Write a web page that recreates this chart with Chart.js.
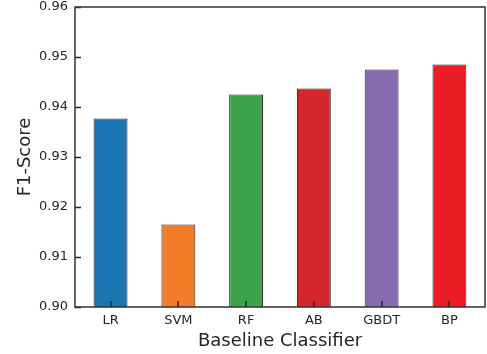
<!DOCTYPE html>
<html>
<head>
<meta charset="utf-8">
<script src="https://cdn.jsdelivr.net/npm/chart.js@4"></script>
<style>
  html, body { margin: 0; padding: 0; background: #fff; }
  #wrap { width: 487px; height: 354px; }
</style>
</head>
<body>
<div id="wrap"><canvas id="f1Chart" width="487" height="354"></canvas></div>
<script>
// classifiers and their F1 scores
const classifiers = ["LR", "SVM", "RF", "AB", "GBDT", "BP"];
const f1Scores = [0.9377, 0.9165, 0.9425, 0.9437, 0.9475, 0.9485];
const barColors = ["#1a76b2", "#f37c28", "#3ca34b", "#d5262c", "#896bb0", "#ec1c25"];
const yTicks = [0.90, 0.91, 0.92, 0.93, 0.94, 0.95, 0.96];

const FONT = "'DejaVu Sans', sans-serif";
const INK = "#262626";

// inward tick marks + frame, like matplotlib's "in" direction
const innerTicks = {
  id: "innerTicks",
  afterDatasetsDraw(chart) {
    const { ctx, chartArea: a, scales } = chart;
    ctx.save();
    ctx.strokeStyle = INK;
    ctx.lineWidth = 1.5;
    scales.y.ticks.forEach((t) => {
      const y = Math.round(scales.y.getPixelForValue(t.value)) + 0.5;
      ctx.beginPath();
      ctx.moveTo(a.left, y);
      ctx.lineTo(a.left + 6, y);
      ctx.stroke();
    });
    scales.x.ticks.forEach((t) => {
      const x = Math.round(scales.x.getPixelForValue(t.value));
      ctx.beginPath();
      ctx.moveTo(x, a.bottom);
      ctx.lineTo(x, a.bottom - 6);
      ctx.stroke();
    });
    ctx.strokeStyle = "#333";
    ctx.lineWidth = 1.5;
    ctx.strokeRect(a.left, a.top, a.right - a.left, a.bottom - a.top);
    ctx.restore();
  },
};

new Chart(document.getElementById("f1Chart").getContext("2d"), {
  type: "bar",
  data: {
    datasets: [
      {
        data: f1Scores.map((v, i) => ({ x: i, y: v })),
        backgroundColor: barColors,
        borderColor: "#2a2a2a",
        borderWidth: 1,
        barPercentage: 0.5,
        categoryPercentage: 1,
      },
    ],
  },
  options: {
    responsive: false,
    animation: false,
    layout: { padding: { top: 7, right: 2, left: 0, bottom: 0 } },
    plugins: { legend: { display: false }, tooltip: { enabled: false } },
    scales: {
      x: {
        type: "linear",
        min: -0.525,
        max: 5.525,
        offset: false,
        grid: { display: false, drawTicks: false },
        border: { display: false },
        ticks: {
          stepSize: 1,
          includeBounds: false,
          padding: 6,
          color: INK,
          font: { size: 13, family: FONT },
          callback: (v) => classifiers[v] ?? "",
        },
        title: {
          display: true,
          text: "Baseline Classifier",
          color: INK,
          font: { size: 18, family: FONT },
          padding: { top: 2, bottom: 2 },
        },
        afterFit: (s) => {
          s.height = 47;
          s.paddingLeft = 0;
          s.paddingRight = 0;
        },
      },
      y: {
        min: 0.9,
        max: 0.96,
        grid: { display: false, drawTicks: false },
        border: { display: false },
        afterBuildTicks: (s) => { s.ticks = yTicks.map((v) => ({ value: v })); },
        ticks: {
          padding: 7,
          color: INK,
          font: { size: 13, family: FONT },
          callback: (v) => v.toFixed(2),
        },
        title: {
          display: true,
          text: "F1-Score",
          color: INK,
          font: { size: 18, family: FONT },
          padding: { top: 15, bottom: 0 },
        },
        afterFit: (s) => {
          s.width = 75;
          s.paddingTop = 0;
          s.paddingBottom = 0;
        },
      },
    },
  },
  plugins: [innerTicks],
});
</script>
</body>
</html>
